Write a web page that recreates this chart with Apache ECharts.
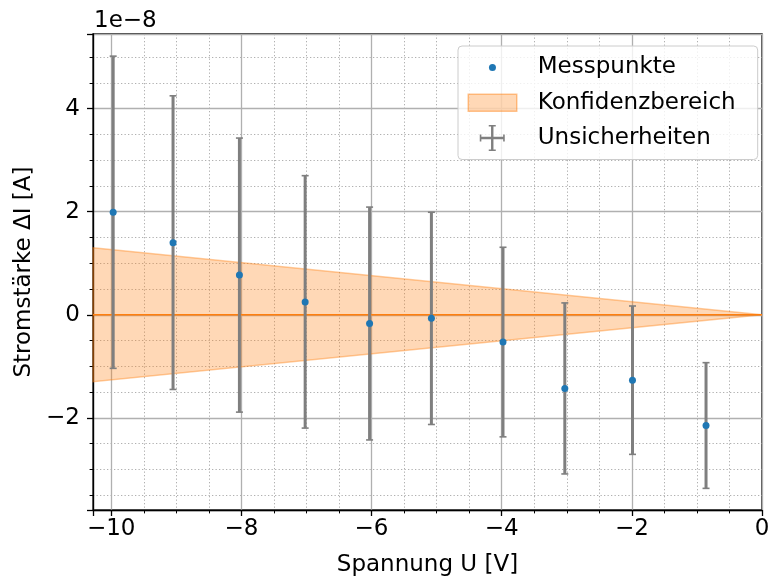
<!DOCTYPE html>
<html><head><meta charset="utf-8">
<script src="https://cdn.jsdelivr.net/npm/echarts@6/dist/echarts.min.js"></script>
<style>html,body{margin:0;padding:0;background:#fff}#c{width:774px;height:583px}</style>
</head><body><div id="c"></div>
<script>
// Measured voltages U [V]
const voltages = [-9.97, -9.05, -8.03, -7.02, -6.03, -5.08, -3.98, -3.03, -1.99, -0.86];
// Current difference ΔI in units of 1e-8 A
const currents = [1.99, 1.40, 0.77, 0.25, -0.17, -0.07, -0.53, -1.43, -1.27, -2.15];
const currentErrors = [3.03, 2.85, 2.66, 2.45, 2.26, 2.06, 1.84, 1.66, 1.44, 1.22];
// Fit line and confidence band (units of 1e-8 A)
const fitX = [-10.28, 0];
const fitY = [0, 0];
const bandUpper = [1.30, 0];
const bandLower = [-1.30, 0];
// Axis ranges
const xRange = [-10.28, 0];
const yRange = [-3.79, 5.45];
const offsetText = '1e\u22128';

const FONT = 'DejaVu Sans';
const FS = 23;
const bandFill = 'rgba(255,127,14,0.3)';
const bandEdge = 'rgba(255,127,14,0.4)';

function fmt(v) {
  if (Math.abs(v / 2 - Math.round(v / 2)) > 1e-6) return '';
  const r = Math.round(v);
  return r < 0 ? '\u2212' + (-r) : String(r);
}

function axisCommon() {
  return {
    type: 'value',
    splitNumber: 5,
    axisLine: { show: true, onZero: false, lineStyle: { color: '#000', width: 1.3 } },
    axisTick: { show: true, inside: false, length: 6, lineStyle: { color: '#000', width: 1.3 } },
    minorTick: { show: true, splitNumber: 4, length: 3.4, lineStyle: { color: '#000', width: 1 } },
    splitLine: { show: true, lineStyle: { color: '#b0b0b0', width: 1.3 } },
    minorSplitLine: { show: true, lineStyle: { color: '#b0b0b0', width: 1, type: [1.3, 2.2] } },
    axisLabel: { formatter: fmt, fontFamily: FONT, fontSize: FS, color: '#000' },
    nameTextStyle: { fontFamily: FONT, fontSize: FS, color: '#000' },
    nameLocation: 'middle'
  };
}

const xAxis = Object.assign(axisCommon(), {
  min: xRange[0], max: xRange[1], name: 'Spannung U [V]', nameGap: 44
});
xAxis.axisLabel.margin = 8;
const yAxis = Object.assign(axisCommon(), {
  min: yRange[0], max: yRange[1], name: 'Stromstärke ΔI [A]', nameGap: 56
});
yAxis.axisLabel.margin = 13;

const chart = echarts.init(document.getElementById('c'), null, { renderer: 'canvas' });
chart.setOption({
  animation: false,
  backgroundColor: '#fff',
  title: {
    text: offsetText, left: 94, top: 10, padding: 0,
    textStyle: { fontFamily: FONT, fontSize: FS, fontWeight: 'normal', color: '#000' }
  },
  grid: { left: 93, right: 12, top: 34, bottom: 73, show: true, borderColor: '#000', borderWidth: 1.3, backgroundColor: 'transparent' },
  xAxis: xAxis,
  yAxis: yAxis,
  legend: {
    orient: 'vertical', left: 458, top: 46,
    itemWidth: 65, itemHeight: 26, itemGap: 8.5,
    padding: [8.5, 22, 8.5, 9],
    backgroundColor: 'rgba(255,255,255,0.8)', borderColor: '#cccccc', borderWidth: 1, borderRadius: 4,
    selectedMode: false,
    textStyle: { fontFamily: FONT, fontSize: FS, color: '#000' },
    data: [
      { name: 'Messpunkte', icon: 'path://M0,0M65,26M21.2,13a3.5,3.5 0 1,0 7,0a3.5,3.5 0 1,0 -7,0z',
        itemStyle: { color: '#1f77b4', borderWidth: 0, opacity: 1 } },
      { name: 'Konfidenzbereich', icon: 'path://M0,0M65,26M0.5,4.5H49V21.5H0.5Z',
        itemStyle: { color: bandFill, borderColor: 'rgba(255,127,14,0.45)', borderWidth: 1.5 } },
      { name: 'Unsicherheiten',
        icon: 'path://M0,0M65,26M23.3,0H25.7V26H23.3ZM12,11.8H37V14.2H12ZM21,0H28V1.6H21ZM21,24.4H28V26H21ZM12,9.5H13.6V16.5H12ZM35.4,9.5H37V16.5H35.4Z',
        itemStyle: { color: '#7f7f7f', borderWidth: 0 } }
    ]
  },
  series: [
    {
      name: 'Konfidenzbereich', type: 'custom', silent: true, z: 1,
      encode: { x: 0, y: 1 },
      itemStyle: { color: bandFill },
      data: fitX.map((x, i) => [x, bandUpper[i], bandLower[i]]),
      renderItem: function (params, api) {
        if (params.dataIndex !== 0) return null;
        const pts = [];
        for (let i = 0; i < fitX.length; i++) pts.push(api.coord([fitX[i], bandUpper[i]]));
        for (let i = fitX.length - 1; i >= 0; i--) pts.push(api.coord([fitX[i], bandLower[i]]));
        return {
          type: 'polygon',
          shape: { points: pts },
          style: { fill: bandFill, stroke: bandEdge, lineWidth: 1.5 }
        };
      }
    },
    {
      name: 'Fit', type: 'line', symbol: 'none', silent: true, z: 2,
      data: fitX.map((x, i) => [x, fitY[i]]),
      lineStyle: { color: '#ff7f0e', width: 1.5 }
    },
    {
      name: 'Unsicherheiten', type: 'custom', z: 3, silent: true,
      encode: { x: 0, y: 1 },
      itemStyle: { color: '#7f7f7f' },
      data: voltages.map((x, i) => [x, currents[i], currentErrors[i]]),
      renderItem: function (params, api) {
        const x = api.value(0), y = api.value(1), e = api.value(2);
        const top = api.coord([x, y + e]);
        const bot = api.coord([x, y - e]);
        const cw = 3.5;
        const st = { stroke: '#7f7f7f', lineWidth: 3 };
        const cs = { stroke: '#7f7f7f', lineWidth: 1.6 };
        return {
          type: 'group',
          children: [
            { type: 'line', shape: { x1: top[0], y1: top[1], x2: bot[0], y2: bot[1] }, style: st },
            { type: 'line', shape: { x1: top[0] - cw, y1: top[1], x2: top[0] + cw, y2: top[1] }, style: cs },
            { type: 'line', shape: { x1: bot[0] - cw, y1: bot[1], x2: bot[0] + cw, y2: bot[1] }, style: cs }
          ]
        };
      }
    },
    {
      name: 'Messpunkte', type: 'scatter', z: 4, symbol: 'circle', symbolSize: 7,
      itemStyle: { color: '#1f77b4', opacity: 1 },
      data: voltages.map((x, i) => [x, currents[i]])
    }
  ]
});
</script>
</body></html>
